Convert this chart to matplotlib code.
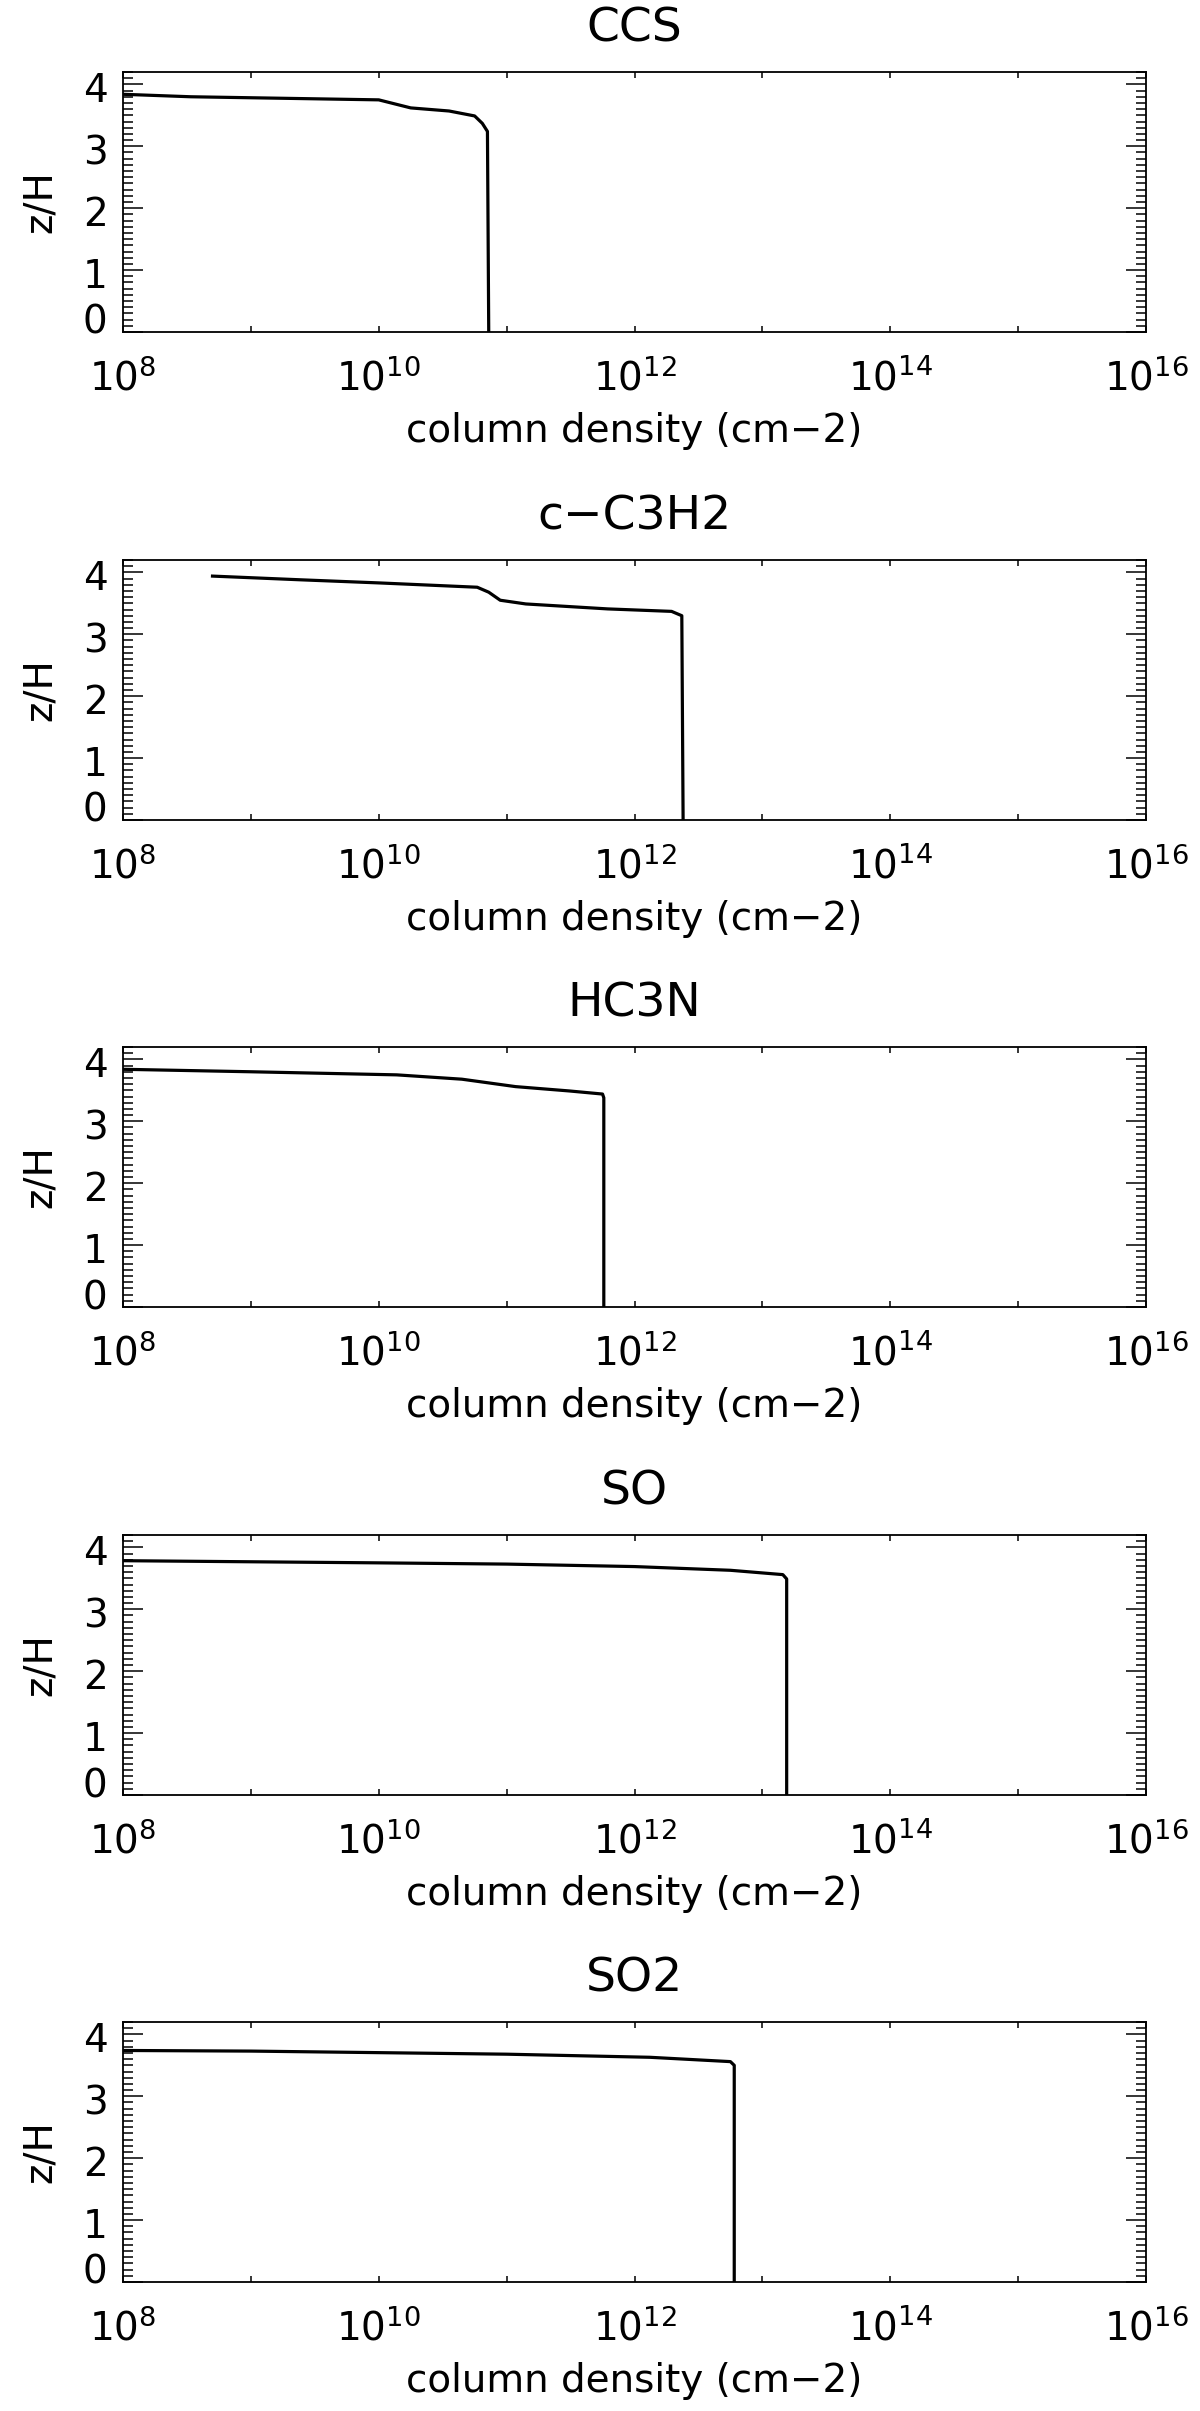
import numpy as np
import matplotlib
matplotlib.use("Agg")
import matplotlib.pyplot as plt
from matplotlib.ticker import FixedLocator, MultipleLocator, NullFormatter
from matplotlib.transforms import ScaledTranslation

# -------------------------------------------------
# DATA (log10 column density vs z/H)
# -------------------------------------------------
species = ["CCS", "c\u2212C3H2", "HC3N", "SO", "SO2"]

ccs_logn = [8.0, 8.53, 10.0, 10.25, 10.55, 10.75, 10.81, 10.85, 10.86]
ccs_z = [3.84, 3.80, 3.75, 3.62, 3.57, 3.49, 3.37, 3.24, 0.02]

c3h2_logn = [8.70, 9.39, 10.0, 10.77, 10.86, 10.95, 11.15, 11.79, 12.29, 12.37, 12.38]
c3h2_z = [3.94, 3.88, 3.83, 3.76, 3.68, 3.55, 3.49, 3.41, 3.37, 3.30, 0.02]

hc3n_logn = [8.0, 9.0, 10.14, 10.65, 11.07, 11.49, 11.75, 11.76, 11.76]
hc3n_z = [3.84, 3.80, 3.75, 3.68, 3.56, 3.49, 3.44, 3.38, 0.02]

so_logn = [8.0, 10.0, 11.0, 12.0, 12.75, 13.16, 13.19, 13.19]
so_z = [3.785, 3.75, 3.73, 3.69, 3.63, 3.56, 3.49, 0.02]

so2_logn = [8.0, 9.0, 11.0, 12.12, 12.75, 12.78, 12.78]
so2_z = [3.74, 3.73, 3.68, 3.63, 3.56, 3.50, 0.02]

curves = [(ccs_logn, ccs_z), (c3h2_logn, c3h2_z), (hc3n_logn, hc3n_z),
          (so_logn, so_z), (so2_logn, so2_z)]

x_decades = list(range(8, 17))
x_labels = [r"$\mathregular{10^{%d}}$" % d if d % 2 == 0 else "" for d in x_decades]

# -------------------------------------------------
# STYLE
# -------------------------------------------------
plt.rcParams["font.family"] = ["DejaVu Sans"]
plt.rcParams["mathtext.fontset"] = "dejavusans"
plt.rcParams["axes.linewidth"] = 1.3

W, H = 1200, 2411
fig = plt.figure(figsize=(W / 100, H / 100), dpi=100)

ax_left = 123 / W
ax_width = (1146 - 123) / W
ax_height = 260 / H
tops = [72, 560, 1047, 1535, 2022]

for name, (logn, z), top in zip(species, curves, tops):
    ax = fig.add_axes([ax_left, 1 - (top + 260) / H, ax_width, ax_height])
    ax.plot(10.0 ** np.array(logn), z, color="black", lw=2.3)
    ax.set_xscale("log")
    ax.set_xlim(1e8, 1e16)
    ax.set_ylim(0, 4.2)

    ax.xaxis.set_major_locator(FixedLocator([10.0 ** d for d in x_decades]))
    ax.set_xticklabels(x_labels)
    ax.xaxis.set_minor_locator(FixedLocator([]))
    ax.xaxis.set_minor_formatter(NullFormatter())
    ax.yaxis.set_major_locator(MultipleLocator(1))
    ax.yaxis.set_minor_locator(MultipleLocator(0.1))

    ax.tick_params(axis="x", which="major", direction="in", top=True,
                   length=4, width=1.1, labelsize=28, pad=19)
    ax.tick_params(axis="y", which="major", direction="in", right=True,
                   length=14.5, width=1.1, labelsize=28, pad=11)
    ax.tick_params(axis="y", which="minor", direction="in", right=True,
                   length=7, width=1.1)

    # IDL puts the "0" label a bit above its tick
    for lab in ax.get_yticklabels():
        if lab.get_text() in ("0", "\u22120"):
            lab.set_transform(lab.get_transform() + ScaledTranslation(0, 0.13, fig.dpi_scale_trans))
        else:
            lab.set_transform(lab.get_transform() + ScaledTranslation(0, -0.03, fig.dpi_scale_trans))

    ax.set_title(name, fontsize=34, pad=22)
    ax.set_xlabel("column density (cm\u22122)", fontsize=28, labelpad=10)
    ax.set_ylabel("z/H", fontsize=28, labelpad=17)

fig.savefig("out.png", dpi=100)
